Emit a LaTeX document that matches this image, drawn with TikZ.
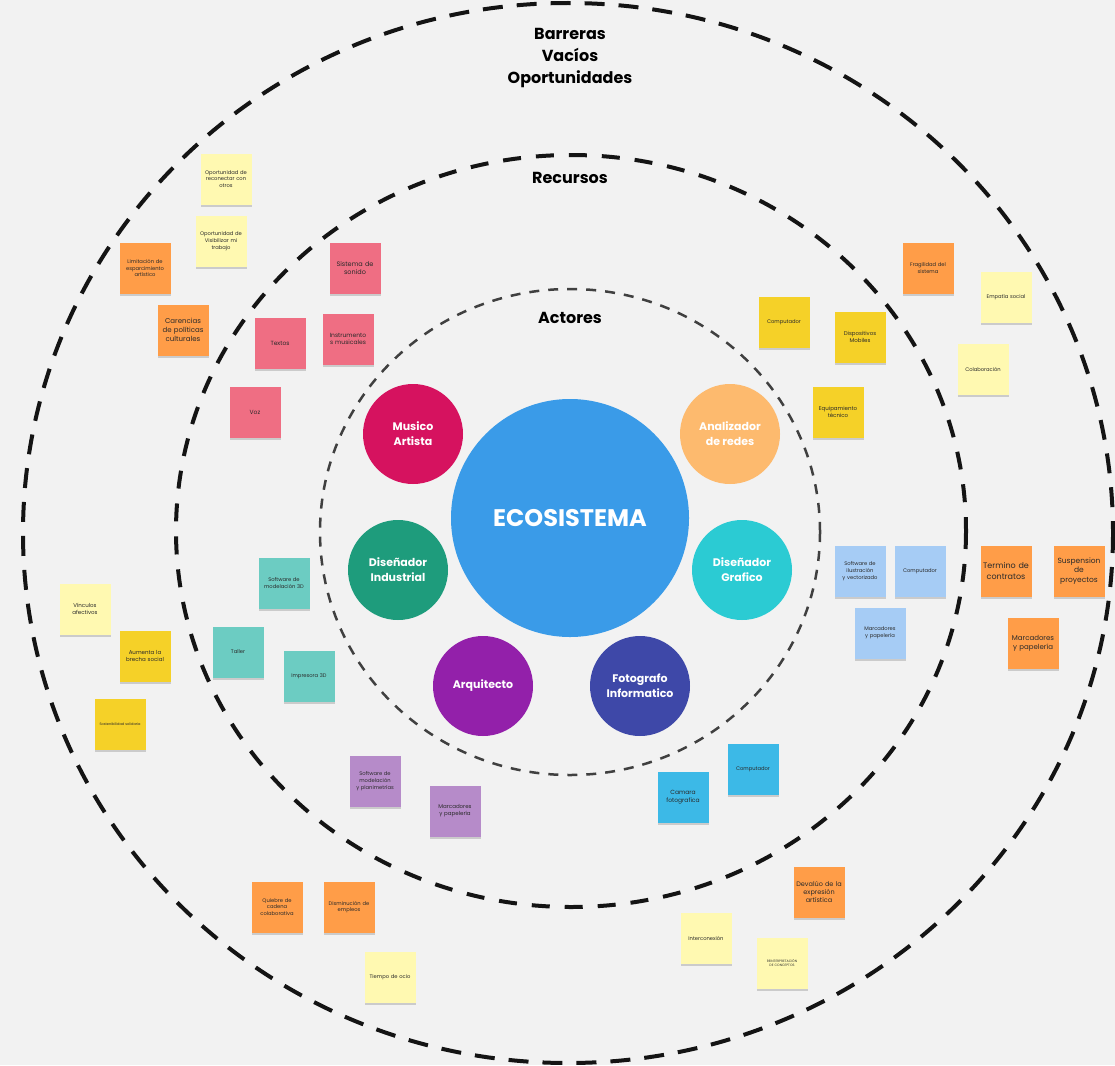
\documentclass[tikz,border=0pt]{standalone}
\usepackage{fontspec}
\setmainfont{Poppins}
\usetikzlibrary{shadows}
\hyphenpenalty=10000
\exhyphenpenalty=10000
\definecolor{bg}{HTML}{F2F2F2}
\definecolor{ly}{HTML}{FFF9B1}
\definecolor{yl}{HTML}{F5D128}
\definecolor{org}{HTML}{FF9D48}
\definecolor{pnk}{HTML}{EF6E83}
\definecolor{tea}{HTML}{6CCCC2}
\definecolor{lbl}{HTML}{A6CCF5}
\definecolor{prp}{HTML}{B68BC9}
\definecolor{sky}{HTML}{3CB9E7}
\definecolor{eco}{HTML}{3A9BE8}
\definecolor{cmus}{HTML}{D6125F}
\definecolor{cana}{HTML}{FDBA6E}
\definecolor{cind}{HTML}{1E9C7C}
\definecolor{cgra}{HTML}{2BCBD3}
\definecolor{carq}{HTML}{9320AA}
\definecolor{cfot}{HTML}{3E48A8}
\definecolor{ink}{HTML}{2A2A2A}
\newcommand{\stickynote}[6][5.2]{%
  \node[sticky,fill=#5,font=\fontsize{#1pt}{\dimexpr #1pt*13/10\relax}\selectfont] (#2) at (#3,#4) {#6};}
\begin{document}
\begin{tikzpicture}[x=1pt,y=-1pt,
  sticky/.style={minimum width=51pt,minimum height=51pt,inner sep=1pt,
    text width=49pt,align=center,text=ink,
    drop shadow={shadow xshift=0pt,shadow yshift=-2pt,opacity=.16,fill=black}},
  actor/.style={circle,minimum size=100pt,inner sep=0pt,text=white,align=center,
    font=\bfseries\fontsize{11}{15}\selectfont},
  ringtitle/.style={font=\bfseries\fontsize{16}{22}\selectfont,text=black,align=center},
  ringA/.style={draw=black!92,line width=4pt,dash pattern=on 20pt off 14pt},
  ringB/.style={draw=black!92,line width=4pt,dash pattern=on 18pt off 15pt},
  ringC/.style={draw=black!75,line width=2.5pt,dash pattern=on 10pt off 9pt}]
\fill[bg] (0,0) rectangle (1115,1065);
\useasboundingbox (0,0) rectangle (1115,1065);
\coordinate (cA) at (568,533);
\coordinate (cB) at (571,531);
\coordinate (cC) at (570,532);
% rings
\draw[ringA] (cA) ellipse [x radius=545, y radius=530];
\draw[ringB] (cB) ellipse [x radius=395, y radius=376];
\draw[ringC] (cC) ellipse [x radius=250, y radius=243];
% titles
\node[ringtitle] (tbar) at (570,58) {Barreras\\Vacíos\\Oportunidades};
\node[ringtitle] (trec) at (570,178) {Recursos};
\node[ringtitle] (tact) at (570,318) {Actores};
% center and actors
\node[circle,fill=eco,minimum size=238pt,inner sep=0pt,text=white,
  font=\bfseries\fontsize{24}{26}\selectfont] (eco) at (570,518) {ECOSISTEMA};
\node[actor,fill=cmus] (mus) at (413,434) {Musico\\Artista};
\node[actor,fill=cana] (ana) at (730,434) {Analizador\\de redes};
\node[actor,fill=cind] (ind) at (398,570) {Diseñador\\Industrial};
\node[actor,fill=cgra] (gra) at (742,570) {Diseñador\\Grafico};
\node[actor,fill=carq] (arq) at (483,686) {Arquitecto};
\node[actor,fill=cfot] (fot) at (640,686) {Fotografo\\Informatico};
% light yellow notes
\stickynote{n1}{226}{179}{ly}{Oportunidad de\\reconectar con\\otros}
\stickynote{n2}{221}{241}{ly}{Oportunidad de\\Visibilizar mi\\trabajo}
\stickynote{n3}{1006}{297}{ly}{Empatía social}
\stickynote{n4}{983}{369}{ly}{Colaboración}
\stickynote[5.5]{n5}{85}{609}{ly}{Vínculos\\afectivos}
\stickynote{n6}{390}{977}{ly}{Tiempo de ocio}
\stickynote{n7}{706}{938}{ly}{Interconexión}
\stickynote[3.3]{n8}{782}{963}{ly}{REINTERPRETACIÓN\\DE CONCEPTOS}
% orange notes
\stickynote{o1}{145}{268}{org}{Limitación de\\esparcimiento\\artístico}
\stickynote[7]{o2}{183}{330}{org}{Carencias\\de políticas\\culturales}
\stickynote{o3}{928}{268}{org}{Fragilidad del\\sistema}
\stickynote[8]{o4}{1006}{571}{org}{Termino de\\contratos}
\stickynote[7.5]{o5}{1079}{571}{org}{Suspension\\de\\proyectos}
\stickynote[7]{o6}{1033}{643}{org}{Marcadores\\y papelería}
\stickynote{o7}{277}{907}{org}{Quiebre de\\cadena\\colaborativa}
\stickynote{o8}{349}{907}{org}{Disminución de\\empleos}
\stickynote[6.5]{o9}{819}{892}{org}{Devalúo de la\\expresión\\artística}
% pink notes
\stickynote[6.5]{p1}{355}{268}{pnk}{Sistema de\\sonido}
\stickynote[6]{p2}{280}{343}{pnk}{Textos}
\stickynote[6]{p3}{348}{339}{pnk}{Instrumento\\s musicales}
\stickynote[6]{p4}{255}{412}{pnk}{Voz}
% yellow notes
\stickynote{y1}{784}{322}{yl}{Computador}
\stickynote[5.5]{y2}{860}{337}{yl}{Dispositivos\\Mobiles}
\stickynote[5.5]{y3}{838}{412}{yl}{Equipamiento\\técnico}
\stickynote[5.5]{y4}{145}{656}{yl}{Aumenta la\\brecha social}
\stickynote[3.5]{y5}{120}{724}{yl}{Sostenibilidad solidaria}
% teal notes
\stickynote{t1}{284}{583}{tea}{Software de\\modelación 3D}
\stickynote{t2}{238}{652}{tea}{Taller}
\stickynote{t3}{309}{676}{tea}{Impresora 3D}
% light blue notes
\stickynote{b1}{860}{571}{lbl}{Software de\\ilustración\\y vectorizado}
\stickynote{b2}{920}{571}{lbl}{Computador}
\stickynote{b3}{880}{633}{lbl}{Marcadores\\y papelería}
% purple notes
\stickynote{v1}{375}{781}{prp}{Software de\\modelación\\y planimetrías}
\stickynote[5.5]{v2}{455}{811}{prp}{Marcadores\\y papelería}
% sky blue notes
\stickynote{s1}{753}{769}{sky}{Computador}
\stickynote[6]{s2}{683}{797}{sky}{Camara\\fotografica}
\end{tikzpicture}
\end{document}
